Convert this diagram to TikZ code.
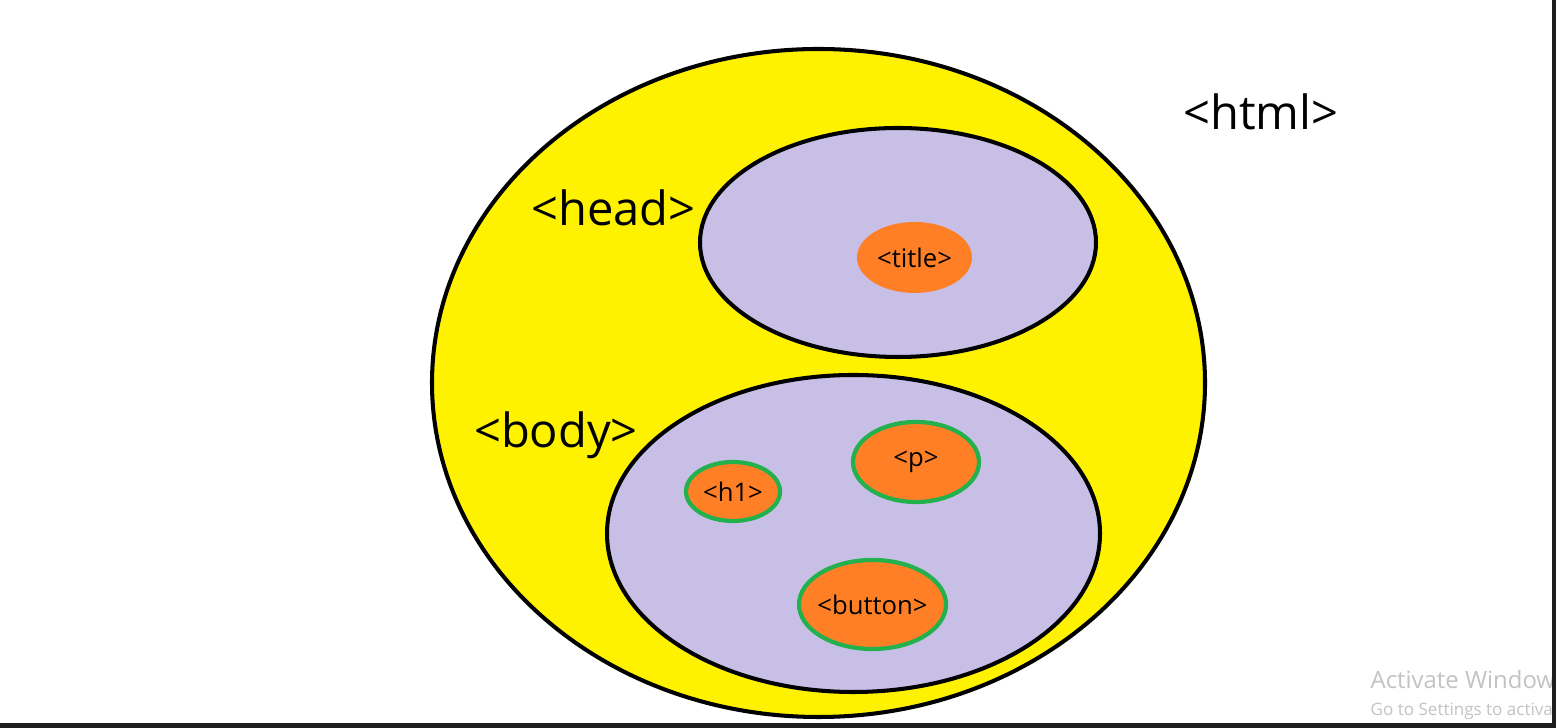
\documentclass[tikz,border=0pt]{standalone}
\usepackage{fontspec}
\setmainfont{Open Sans}
\usetikzlibrary{shapes.geometric}

\definecolor{paintyellow}{RGB}{255,242,0}
\definecolor{paintlavender}{RGB}{200,191,231}
\definecolor{paintorange}{RGB}{255,127,39}
\definecolor{paintgreen}{RGB}{34,177,76}
\definecolor{framegray}{RGB}{30,30,30}
\definecolor{markgray}{RGB}{195,195,195}

\tikzset{
  blob/.style={ellipse,draw=black,line width=1.15pt,inner sep=0pt},
  tag/.style={ellipse,fill=paintorange,inner xsep=-4pt,inner ysep=-1pt,font=\fontsize{7.3}{8}\selectfont},
  ringtag/.style={tag,draw=paintgreen,line width=1.2pt},
  biglabel/.style={anchor=base,inner sep=0pt,font=\fontsize{13.4}{16}\selectfont}
}

\begin{document}
\begin{tikzpicture}
  \useasboundingbox (0,0) rectangle (15.56,7.28);
  \fill[white] (0,0) rectangle (15.56,7.28);

  \node[blob,fill=paintyellow,minimum width=7.73cm,minimum height=6.68cm] (html) at (8.185,3.45) {};
  \node[blob,fill=paintlavender,minimum width=3.96cm,minimum height=2.29cm] (head) at (8.98,4.855) {};
  \node[blob,fill=paintlavender,minimum width=4.93cm,minimum height=3.17cm] (body) at (8.535,1.945) {};

  \node[tag,minimum width=1.15cm,minimum height=0.71cm] (title) at (9.145,4.705) {<title>};
  \node[ringtag,minimum width=0.94cm,minimum height=0.59cm] (h1) at (7.33,2.365) {<h1>};
  \node[ringtag,minimum width=1.26cm,minimum height=0.80cm] (p) at (9.16,2.66) {<p>};
  \node[ringtag,minimum width=1.47cm,minimum height=0.89cm] (button) at (8.725,1.235) {<button>};

  \node[biglabel] (htmllabel) at (12.61,5.98) {<html>};
  \node[biglabel] (headlabel) at (6.135,5.02) {<head>};
  \node[biglabel] (bodylabel) at (5.56,2.80) {<body>};

  \node[anchor=base west,inner sep=0pt,text=markgray,font=\fontsize{6.8}{8}\selectfont] (activate) at (13.70,0.39) {Activate Window};
  \node[anchor=base west,inner sep=0pt,text=markgray,font=\fontsize{4.85}{6}\selectfont] (gosettings) at (13.70,0.12) {Go to Settings to activa};

  \fill[framegray] (15.52,0) rectangle (15.56,7.28);
  \fill[framegray] (0,0) rectangle (15.56,0.05);
\end{tikzpicture}
\end{document}
